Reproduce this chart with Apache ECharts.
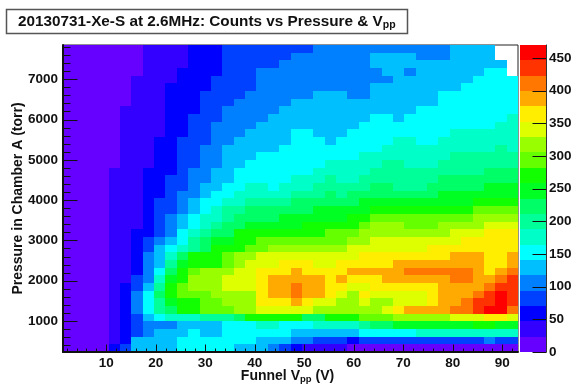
<!DOCTYPE html>
<html><head><meta charset="utf-8">
<style>html,body{margin:0;padding:0;background:#fff}#c{width:576px;height:385px}</style>
<script src="https://cdn.jsdelivr.net/npm/echarts@6/dist/echarts.min.js"></script>
</head><body><div id="c"></div>
<script>
// Bin layout of the histogram
const xFirstEdge = 1.26, xBinWidth = 2.2975, xLast = 93.16;
const yFirstEdge = 231, yBinHeight = 190.45, yLast = 7849;
const xMajor = [10,20,30,40,50,60,70,80,90];
const xMinor = [2,4,6,8,12,14,16,18,22,24,26,28,32,34,36,38,42,44,46,48,52,54,56,58,62,64,66,68,72,74,76,78,82,84,86,88,92];
const yMajor = [1000,2000,3000,4000,5000,6000,7000];
const yMinor = [400,600,800,1200,1400,1600,1800,2200,2400,2600,2800,3200,3400,3600,3800,4200,4400,4600,4800,5200,5400,5600,5800,6200,6400,6600,6800,7200,7400,7600,7800];
const zTicks = [0,50,100,150,200,250,300,350,400,450];
const zBandWidth = 23.5;
const bandColors = ['#6600ff','#3300ff','#0000ff','#0040ff','#0080ff','#00bfff','#00ffff','#00ffc8','#00ff99','#00ff66','#00ff22','#11ff00','#66ff00','#99ff00','#ddff00','#ffee00','#ffaa00','#ff7700','#ff3300','#ff0000'];
const N = null;
// Count band of every cell (band k = counts between k*zBandWidth and (k+1)*zBandWidth); rows bottom to top
const bands = [
[0,0,0,0,2,3,5,5,5,5,6,6,6,6,6,5,5,5,4,3,2,1,1,1,1,0,0,0,0,0,0,0,0,0,0,0,0,0,0,0],
[0,0,0,0,1,2,5,5,5,5,6,6,6,6,6,6,6,5,5,5,4,4,3,3,3,2,3,3,3,3,3,3,3,3,3,3,3,4,3,3],
[0,0,0,0,1,2,3,4,5,5,5,6,5,5,6,6,6,6,6,6,5,5,5,5,5,5,6,6,6,6,6,7,7,7,7,7,7,7,7,7],
[0,0,0,0,1,2,3,4,4,4,5,5,5,5,6,6,6,7,7,6,6,6,7,7,7,7,8,9,9,10,10,10,10,10,10,10,11,11,10,10],
[0,0,0,0,1,2,3,5,6,7,7,7,8,8,8,9,11,11,11,11,11,9,9,11,11,11,12,12,12,13,13,13,13,13,14,14,14,15,15,14],
[0,0,0,0,1,2,4,6,8,9,11,11,12,12,12,13,13,14,14,14,14,14,13,13,13,13,13,13,14,15,16,16,16,16,17,17,18,19,19,17],
[0,0,0,0,1,2,4,6,8,10,11,11,12,12,13,13,13,15,15,15,16,15,14,14,13,13,14,13,13,14,14,14,15,16,16,17,18,18,19,18],
[0,0,0,0,1,2,4,6,9,11,12,12,12,13,13,13,13,15,16,16,17,16,16,15,14,13,15,14,14,14,14,14,15,16,16,16,17,18,19,18],
[0,0,0,0,1,2,3,5,8,11,12,13,13,13,14,14,14,15,16,16,17,16,16,15,15,14,14,15,15,15,15,15,15,16,16,16,16,17,18,18],
[0,0,0,0,1,1,3,4,7,10,11,13,13,13,14,14,14,15,16,16,16,16,16,15,16,15,15,15,16,16,16,16,16,16,17,17,16,16,17,18],
[0,0,0,0,1,1,2,4,6,9,11,12,13,13,13,14,14,15,15,15,16,15,15,15,15,16,16,16,16,16,17,17,17,17,17,17,16,15,16,17],
[0,0,0,0,1,1,2,4,5,8,10,11,11,11,12,13,14,14,14,15,15,15,14,14,15,15,15,15,15,16,16,16,16,16,16,16,16,15,15,16],
[0,0,0,0,1,1,2,4,5,7,9,11,11,11,12,13,13,14,14,14,14,14,14,14,14,14,15,15,15,15,15,15,15,15,16,16,16,15,15,16],
[0,0,0,0,1,1,2,3,5,6,7,8,9,11,11,11,12,12,13,13,13,13,13,13,13,14,14,14,14,14,14,14,15,15,15,15,15,15,15,15],
[0,0,0,0,1,1,2,3,4,5,6,8,9,10,10,11,11,12,12,12,12,12,12,12,12,13,13,14,14,14,14,14,14,14,14,15,15,15,15,15],
[0,0,0,0,1,1,2,2,3,4,6,7,8,9,9,11,11,11,11,11,11,11,11,12,12,12,13,13,13,13,13,13,13,13,14,14,14,15,15,15],
[0,0,0,0,1,1,1,2,3,4,5,6,7,8,9,9,10,10,10,10,10,11,11,11,11,11,12,13,13,13,12,12,12,13,13,13,13,14,14,14],
[0,0,0,0,1,1,1,2,3,4,5,6,7,7,8,9,9,9,9,10,10,10,10,10,10,11,11,12,12,12,12,12,12,12,12,12,13,13,13,13],
[0,0,0,0,1,1,1,2,3,3,4,5,6,7,8,8,9,9,9,9,9,9,10,10,10,10,10,11,11,11,11,11,11,11,11,11,12,12,12,12],
[0,0,0,0,1,1,1,2,3,3,4,5,6,6,7,7,8,8,8,8,9,9,9,9,9,9,10,10,10,10,10,10,10,10,10,10,11,11,11,11],
[0,0,0,0,1,1,1,2,2,3,4,4,5,6,6,7,7,7,7,7,8,8,8,9,8,9,9,9,9,9,9,9,9,10,10,10,10,10,10,10],
[0,0,0,0,1,1,1,2,2,3,3,4,5,5,6,6,7,7,6,7,7,7,8,8,8,8,8,9,9,8,8,8,9,9,9,9,9,10,10,10],
[0,0,0,0,1,1,1,2,2,3,3,4,4,5,5,6,6,6,6,6,7,7,7,8,7,7,8,8,8,8,8,8,8,9,9,9,9,9,9,9],
[0,0,0,0,1,1,1,2,2,2,3,4,4,5,5,6,6,6,6,6,6,6,7,7,7,7,7,8,8,8,8,8,8,8,8,8,8,9,9,9],
[0,0,0,0,0,1,1,1,2,2,3,3,4,4,5,5,6,6,6,6,6,6,6,7,7,7,7,7,8,8,7,7,7,8,8,8,8,8,8,8],
[0,0,0,0,0,1,1,1,2,2,3,3,4,4,5,5,5,6,6,6,6,6,6,6,6,6,7,7,7,7,7,7,7,7,8,8,8,8,8,8],
[0,0,0,0,0,1,1,1,2,2,3,3,4,4,5,5,5,5,5,6,6,6,6,6,6,6,6,6,7,7,7,7,7,7,7,7,7,7,8,7],
[0,0,0,0,0,1,1,1,2,2,3,3,3,4,4,5,5,5,5,5,6,6,6,5,6,6,6,6,6,7,7,6,6,7,7,7,7,7,7,7],
[0,0,0,0,0,1,1,1,1,2,2,3,3,4,4,4,5,5,5,5,6,6,5,5,5,6,6,6,6,6,6,6,6,6,7,7,7,7,7,7],
[0,0,0,0,0,1,1,1,1,2,2,3,3,4,4,4,4,5,5,5,5,5,5,5,5,5,6,6,6,6,6,6,6,6,6,6,6,6,7,7],
[0,0,0,0,0,1,1,1,1,2,2,3,3,3,4,4,4,4,5,5,5,5,5,5,5,5,5,6,6,5,6,6,6,6,6,6,6,6,6,7],
[0,0,0,0,0,1,1,1,1,2,2,2,3,3,4,4,4,4,4,5,5,5,5,5,5,5,5,5,5,5,5,6,6,6,6,6,6,6,6,6],
[0,0,0,0,0,0,1,1,1,2,2,2,3,3,3,4,4,4,4,4,5,5,5,5,5,5,5,5,5,5,5,5,5,6,6,6,6,6,6,6],
[0,0,0,0,0,0,1,1,1,2,2,2,3,3,3,3,4,4,4,4,4,4,5,5,5,4,4,5,5,5,5,5,5,6,6,6,6,6,6,6],
[0,0,0,0,0,0,1,1,1,2,2,2,2,3,3,3,3,4,4,4,4,4,4,4,4,4,4,5,5,5,5,5,5,5,5,6,6,6,6,6],
[0,0,0,0,0,0,1,1,1,1,2,2,2,3,3,3,3,4,4,4,4,4,4,4,4,4,4,4,4,5,5,5,5,5,5,5,6,6,6,6],
[0,0,0,0,0,0,0,1,1,1,2,2,2,2,3,3,3,4,4,4,4,4,4,4,4,4,4,4,5,5,4,5,5,5,5,5,5,6,6,N],
[0,0,0,0,0,0,0,1,1,1,1,2,2,2,3,3,3,3,3,4,4,4,4,4,4,4,4,5,5,5,5,5,5,5,5,5,5,5,5,N],
[0,0,0,0,0,0,0,1,1,1,1,2,2,2,3,3,3,3,3,3,4,4,4,4,4,4,4,5,5,5,5,4,4,4,5,5,5,5,N,N],
[0,0,0,0,0,0,0,1,1,1,1,2,2,2,3,3,3,3,3,3,3,3,4,4,4,4,4,4,4,4,4,4,4,4,5,5,5,5,N,N]
];
const cells = [];
bands.forEach((row, j) => row.forEach((b, i) => {
  if (b !== N) cells.push([xFirstEdge + i*xBinWidth, xFirstEdge + (i+1)*xBinWidth,
                           yFirstEdge + j*yBinHeight, yFirstEdge + (j+1)*yBinHeight, b]);
}));
const barCells = bandColors.map((c, k) => [0, 1, k*zBandWidth, (k+1)*zBandWidth, k]);
const font = 'Liberation Sans';
const rect = (params, api) => {
  const a = api.coord([api.value(0), api.value(2)]);
  const b = api.coord([api.value(1), api.value(3)]);
  const x0 = Math.round(a[0]), x1 = Math.round(b[0]), y0 = Math.round(a[1]), y1 = Math.round(b[1]);
  return {type:'rect', shape:{x:x0, y:y1, width:x1-x0, height:y0-y1},
          style:{fill:bandColors[api.value(4)]}};
};
// Tick marks are drawn through the axes' scales, pointing into the plot
const tickSeries = (vals, xi, yi, horizontal, anchor, len, dir) => ({
  type:'custom', xAxisIndex:xi, yAxisIndex:yi, silent:true, z:5, clip:false,
  data: vals.map(v => [v]), encode: horizontal ? {y:0} : {x:0},
  renderItem:(params, api) => {
    const v = api.value(0);
    const p = horizontal ? api.coord([anchor, v]) : api.coord([v, anchor]);
    const px = Math.round(p[0]) + 0.5, py = Math.round(p[1]) + 0.5;
    const shape = horizontal ? {x1:px, y1:py, x2:px + dir*len, y2:py}
                             : {x1:px, y1:py, x2:px, y2:py - len};
    return {type:'line', shape, style:{stroke:'#111', lineWidth:1}};
  }
});
const lbl = {fontFamily:font, fontWeight:'bold', fontSize:13.5, color:'#111', formatter:v => String(v)};
const chart = echarts.init(document.getElementById('c'), null, {renderer:'canvas'});
chart.setOption({
  animation:false,
  backgroundColor:'#fff',
  title:{left:18, top:13, padding:0, text:'{b|20130731-Xe-S at 2.6MHz: Counts vs Pressure & V}{s|pp}',
    textStyle:{rich:{
      b:{fontFamily:font, fontWeight:'bold', fontSize:15.3, color:'#111', lineHeight:18},
      s:{fontFamily:font, fontWeight:'bold', fontSize:10.5, color:'#111', verticalAlign:'bottom', lineHeight:12, padding:[6,0,0,0]}}}},
  graphic:[{type:'rect', z:-1, shape:{x:6.5,y:9.5,width:401,height:24}, style:{fill:'#fff', stroke:'#555', lineWidth:1.5}}],
  grid:[{left:63, top:45, width:455, height:307, show:true, borderColor:'#222', borderWidth:1, backgroundColor:'#fff', outerBoundsMode:'none'},
        {left:520, top:45, width:26, height:307, outerBoundsMode:'none'}],
  xAxis:[
    {type:'value', z:6, gridIndex:0, min:xFirstEdge, max:xLast, position:'bottom', splitLine:{show:false},
     name:'{b|Funnel V}{s|pp}{b| (V)}', nameLocation:'middle', nameGap:16, nameMoveOverlap:false,
     nameTextStyle:{padding:[0,6,0,0], rich:{b:{fontFamily:font,fontWeight:'bold',fontSize:14,color:'#111'},
       s:{fontFamily:font,fontWeight:'bold',fontSize:9.5,color:'#111',verticalAlign:'bottom',padding:[6,0,0,0]}}},
     axisLine:{show:true, onZero:false, lineStyle:{color:'#111', width:2}},
     axisTick:{show:false},
     axisLabel:{...lbl, margin:4, customValues:xMajor}},
    {type:'value', gridIndex:1, min:0, max:1, show:false}
  ],
  yAxis:[
    {type:'value', z:6, gridIndex:0, min:yFirstEdge, max:yLast, position:'left', splitLine:{show:false},
     name:'Pressure in Chamber A (torr)', nameLocation:'middle', nameGap:38, nameRotate:90, nameMoveOverlap:false,
     nameTextStyle:{fontFamily:font,fontWeight:'bold',fontSize:14,color:'#111'},
     axisLine:{show:true, onZero:false, lineStyle:{color:'#111', width:2}},
     axisTick:{show:false},
     axisLabel:{...lbl, margin:5, customValues:yMajor}},
    {type:'value', z:6, gridIndex:1, min:0, max:zBandWidth*bandColors.length, position:'right', splitLine:{show:false},
     axisLine:{show:true, onZero:false, lineStyle:{color:'#333', width:1}},
     axisTick:{show:false},
     axisLabel:{...lbl, margin:3, customValues:zTicks}}
  ],
  series:[
    {type:'custom', xAxisIndex:0, yAxisIndex:0, data:cells, encode:{x:[0,1], y:[2,3]}, renderItem:rect, silent:true, z:2, clip:true},
    {type:'custom', xAxisIndex:1, yAxisIndex:1, data:barCells, encode:{x:[0,1], y:[2,3]}, renderItem:rect, silent:true, z:2, clip:true},
    tickSeries(xMajor, 0, 0, false, yFirstEdge, 8, 1),
    tickSeries(xMinor, 0, 0, false, yFirstEdge, 4, 1),
    tickSeries(yMajor, 0, 0, true, xFirstEdge, 14, 1),
    tickSeries(yMinor, 0, 0, true, xFirstEdge, 7, 1),
    tickSeries(zTicks, 1, 1, true, 1, 14, -1)
  ]
});
</script></body></html>
